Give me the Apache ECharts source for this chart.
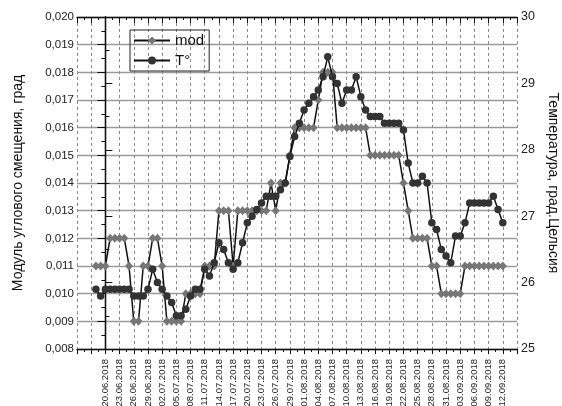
<!DOCTYPE html>
<html><head><meta charset="utf-8">
<script src="https://cdn.jsdelivr.net/npm/echarts@6/dist/echarts.min.js"></script>
<style>html,body{margin:0;padding:0;background:#fff}#c{width:562px;height:406px}</style>
</head><body><div id="c"></div>
<script>
// day index 0 = 20.06.2018; data series start at 18.06.2018 (day -2)
const firstDay = -2;
const tickLabels = ['20.06.2018','23.06.2018','26.06.2018','29.06.2018','02.07.2018','05.07.2018','08.07.2018','11.07.2018','14.07.2018','17.07.2018','20.07.2018','23.07.2018','26.07.2018','29.07.2018','01.08.2018','04.08.2018','07.08.2018','10.08.2018','13.08.2018','16.08.2018','19.08.2018','22.08.2018','25.08.2018','28.08.2018','31.08.2018','03.09.2018','06.09.2018','09.09.2018','12.09.2018'];
const modValues = [
 0.011,0.011,0.011,
 0.012,0.012,0.012,0.012,
 0.011,
 0.009,0.009,
 0.011,0.011,
 0.012,0.012,
 0.011,
 0.009,0.009,0.009,0.009,
 0.010,0.010,0.010,0.010,
 0.011,0.011,0.011,
 0.013,0.013,0.013,
 0.011,
 0.013,0.013,0.013,0.013,0.013,0.013,0.013,
 0.014,0.013,0.014,0.014,
 0.015,
 0.016,0.016,0.016,0.016,0.016,
 0.017,
 0.018,0.018,0.018,
 0.016,0.016,0.016,0.016,0.016,0.016,0.016,
 0.015,0.015,0.015,0.015,0.015,0.015,0.015,
 0.014,0.013,
 0.012,0.012,0.012,0.012,
 0.011,0.011,
 0.010,0.010,0.010,0.010,0.010,
 0.011,0.011,0.011,0.011,0.011,0.011,0.011,0.011,0.011
];
const tempValues = [
 25.9,25.8,25.9,25.9,25.9,25.9,25.9,25.9,25.8,25.8,
 25.8,25.9,26.2,26.0,25.9,25.8,25.7,25.5,25.5,25.6,
 25.8,25.9,25.9,26.2,26.1,26.3,26.6,26.5,26.3,26.2,
 26.3,26.6,26.9,27.0,27.1,27.2,27.3,27.3,27.3,27.4,
 27.5,27.9,28.2,28.4,28.6,28.7,28.8,28.9,29.1,29.4,
 29.1,29.0,28.7,28.9,28.9,29.1,28.8,28.6,28.5,28.5,
 28.5,28.4,28.4,28.4,28.4,28.3,27.8,27.5,27.5,27.6,
 27.5,26.9,26.8,26.5,26.4,26.3,26.7,26.7,26.9,27.2,
 27.2,27.2,27.2,27.2,27.3,27.1,26.9
];

const FONT = 'Liberation Sans, Arial, sans-serif';
const modData = modValues.map((v,i)=>[i+firstDay, v]);
const tempData = tempValues.map((v,i)=>[i+firstDay, v]);

const chart = echarts.init(document.getElementById('c'));
const axisLine = {show:true, lineStyle:{color:'#111', width:1.3}};
chart.setOption({
  animation:false,
  backgroundColor:'#fff',
  textStyle:{fontFamily:FONT},
  grid:{left:77, right:45, top:17, bottom:57, containLabel:false, outerBoundsMode:'none'},
  legend:{
    left:130, top:30, orient:'vertical',
    data:['mod','T°'],
    itemWidth:36, itemHeight:10, itemGap:5,
    padding:[3,5,3,3],
    borderColor:'#222', borderWidth:1,
    textStyle:{fontFamily:FONT, fontSize:15, color:'#111'}
  },
  xAxis:[{
    type:'value', min:-6, max:87, interval:3,
    axisLine:axisLine,
    axisTick:{show:true, length:5, lineStyle:{color:'#111'}},
    minorTick:{show:true, splitNumber:2, length:3, lineStyle:{color:'#111'}},
    splitLine:{show:true, lineStyle:{color:'#8a8a8a', type:[3,3], width:1}},
    axisLabel:{rotate:90, fontSize:9.5, color:'#222', margin:10, fontFamily:FONT,
      formatter:function(v){ const k=Math.round(v/3); return (v>=0 && k<tickLabels.length && k*3===v)? tickLabels[k] : ''; }}
  },{
    type:'value', position:'top', min:-6, max:87, interval:3,
    axisLine:axisLine,
    axisTick:{show:true, inside:true, length:6, lineStyle:{color:'#111'}},
    minorTick:{show:true, splitNumber:2, length:3, lineStyle:{color:'#111'}},
    splitLine:{show:false}, axisLabel:{show:false}
  }],
  yAxis:[{
    type:'value', min:0.008, max:0.020, interval:0.001,
    axisLine:axisLine,
    axisTick:{show:true, length:8, lineStyle:{color:'#111'}},
    minorTick:{show:true, splitNumber:2, length:4, lineStyle:{color:'#111'}},
    splitLine:{show:true, lineStyle:{color:'#9a9a9a', width:1.3}},
    axisLabel:{fontSize:11.5, color:'#222', margin:3, fontFamily:FONT,
      formatter:function(v){ return v.toFixed(3).replace('.',','); }},
    name:'Модуль углового смещения, град', nameLocation:'middle', nameGap:52,
    nameTextStyle:{fontSize:14, color:'#111', fontFamily:FONT}
  },{
    type:'value', min:25, max:30, interval:1, position:'right',
    axisLine:axisLine,
    axisTick:{show:true, length:7, lineStyle:{color:'#111'}},
    minorTick:{show:true, splitNumber:2, length:4, lineStyle:{color:'#111'}},
    splitLine:{show:false},
    axisLabel:{fontSize:12.5, color:'#222', margin:4, fontFamily:FONT},
    name:'Температура, град.Цельсия', nameLocation:'middle', nameGap:23, nameRotate:-90,
    nameTextStyle:{fontSize:14, color:'#111', fontFamily:FONT}
  }],
  series:[{
    name:'mod', type:'line', xAxisIndex:0, yAxisIndex:0, data:modData,
    symbol:'diamond', symbolSize:[8,9],
    lineStyle:{color:'#111', width:1.5},
    itemStyle:{color:'#767676', borderWidth:0},
    z:2
  },{
    name:'T°', type:'line', xAxisIndex:0, yAxisIndex:1, data:tempData,
    symbol:'circle', symbolSize:7.5,
    lineStyle:{color:'#111', width:1.5},
    itemStyle:{color:'#333', borderWidth:0},
    z:3
  }]
});
</script></body></html>
